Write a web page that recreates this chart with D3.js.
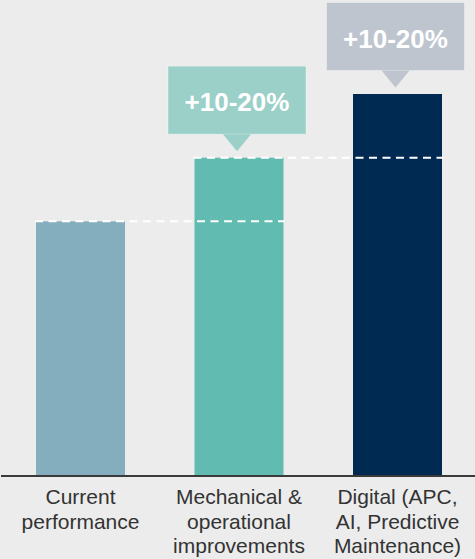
<!DOCTYPE html>
<html>
<head>
<meta charset="utf-8">
<script src="https://cdn.jsdelivr.net/npm/d3@7"></script>
<style>
  html, body { margin: 0; padding: 0; background: #ececec; }
  svg { display: block; }
</style>
</head>
<body>
<div id="chart"></div>
<script>
// data
const categories = ["Current performance", "Mechanical & operational improvements", "Digital (APC, AI, Predictive Maintenance)"];
const values = [100, 125, 150];
const labelLines = [
  ["Current", "performance"],
  ["Mechanical &", "operational", "improvements"],
  ["Digital (APC,", "AI, Predictive", "Maintenance)"]
];
const calloutText = ["", "+10-20%", "+10-20%"];

const barColors = ["#84adbe", "#62bbb1", "#002a52"];
const calloutColors = [null, "#9bd0c9", "#bec5cf"];

const width = 475, height = 559;
const baseY = 476;

const svg = d3.select("#chart").append("svg")
  .attr("width", width)
  .attr("height", height);

svg.append("rect")
  .attr("width", width)
  .attr("height", height)
  .attr("fill", "#ececec");

const x = d3.scaleBand()
  .domain(categories)
  .range([36, 442])
  .paddingInner(0.4385)
  .paddingOuter(0);

const y = d3.scaleLinear()
  .domain([0, 150])
  .range([baseY, 94]);

// bars
svg.selectAll(".bar")
  .data(categories)
  .enter()
  .append("rect")
  .attr("class", "bar")
  .attr("x", d => x(d))
  .attr("y", (d, i) => y(values[i]))
  .attr("width", x.bandwidth())
  .attr("height", (d, i) => baseY - y(values[i]))
  .attr("fill", (d, i) => barColors[i]);

// dashed reference lines from each bar top to the next bar
for (let i = 0; i < categories.length - 1; i++) {
  svg.append("line")
    .attr("x1", x(categories[i]) - 1)
    .attr("x2", x(categories[i + 1]) + x.bandwidth() + 1)
    .attr("y1", y(values[i]))
    .attr("y2", y(values[i]))
    .attr("stroke", "#ffffff")
    .attr("stroke-width", 2)
    .attr("stroke-dasharray", "8,5.5");
}

// callouts
const boxW = 138, boxH = 68, tipGap = 6.5, tipH = 17, tipHalf = 14;
categories.forEach((c, i) => {
  if (!calloutText[i]) return;
  const cx = x(c) + x.bandwidth() / 2 - 2;
  const tipY = y(values[i]) - tipGap;
  const boxBottom = tipY - tipH;
  const boxTop = boxBottom - boxH;
  const g = svg.append("g");
  g.append("rect")
    .attr("x", cx - boxW / 2)
    .attr("y", boxTop)
    .attr("width", boxW)
    .attr("height", boxH)
    .attr("fill", calloutColors[i])
    .attr("stroke", "#ffffff")
    .attr("stroke-opacity", 0.35)
    .attr("stroke-width", 1);
  g.append("path")
    .attr("d", `M${cx - tipHalf},${boxBottom} L${cx + tipHalf},${boxBottom} L${cx},${tipY} Z`)
    .attr("fill", calloutColors[i]);
  g.append("text")
    .attr("x", cx)
    .attr("y", boxTop + 45)
    .attr("text-anchor", "middle")
    .attr("font-family", "Liberation Sans, Arial, sans-serif")
    .attr("font-weight", "bold")
    .attr("font-size", 26)
    .attr("fill", "#ffffff")
    .text(calloutText[i]);
});

// axis baseline
svg.append("line")
  .attr("x1", 1)
  .attr("x2", width)
  .attr("y1", baseY)
  .attr("y2", baseY)
  .attr("stroke", "#3a3a3a")
  .attr("stroke-width", 1.8);

// category labels
categories.forEach((c, i) => {
  const t = svg.append("text")
    .attr("text-anchor", "middle")
    .attr("font-family", "Liberation Sans, Arial, sans-serif")
    .attr("font-size", 21)
    .attr("fill", "#333333");
  labelLines[i].forEach((line, j) => {
    t.append("tspan")
      .attr("x", x(c) + x.bandwidth() / 2)
      .attr("y", 504 + j * 24.6)
      .text(line);
  });
});
</script>
</body>
</html>
